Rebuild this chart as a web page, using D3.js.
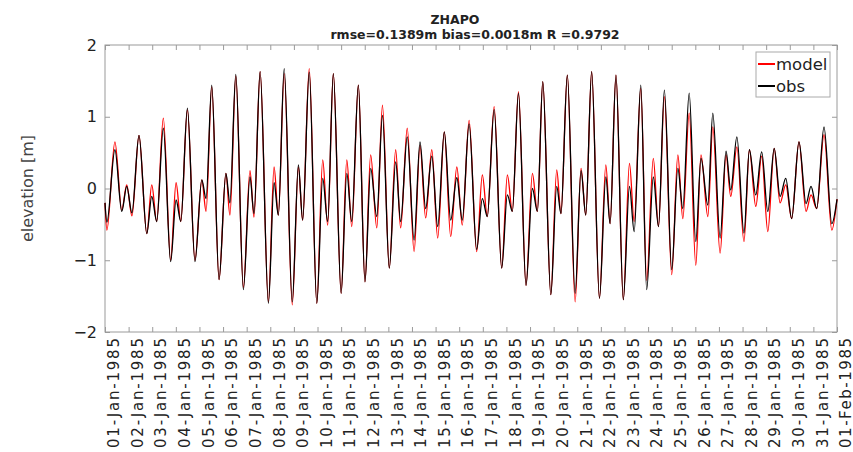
<!DOCTYPE html>
<html>
<head>
<meta charset="utf-8">
<script src="https://cdnjs.cloudflare.com/ajax/libs/d3/7.8.5/d3.min.js"></script>
<style>
    body { margin: 0; background: #fff; }
    svg { font-family: "DejaVu Sans", sans-serif; }
</style>
</head>
<body>
<svg width="853" height="452"></svg>
<script>
// extremos de maré: dias desde 01-Jan-1985 e elevação em metros
let dias = [
    0.00, 0.08, 0.42, 0.71, 0.92, 1.14, 1.44, 1.77, 1.98, 2.19,
    2.47, 2.78, 3.01, 3.21, 3.49, 3.81, 4.10, 4.28, 4.52, 4.83,
    5.12, 5.29, 5.54, 5.86, 6.14, 6.31, 6.57, 6.92, 7.16, 7.34,
    7.59, 7.93, 8.19, 8.37, 8.65, 8.97, 9.22, 9.43, 9.67, 10.00,
    10.24, 10.45, 10.73, 11.01, 11.25, 11.51, 11.75, 12.04, 12.31, 12.52,
    12.80, 13.09, 13.34, 13.58, 13.84, 14.09, 14.37, 14.64, 14.90, 15.13,
    15.42, 15.74, 15.98, 16.19, 16.48, 16.80, 17.04, 17.25, 17.51, 17.83,
    18.10, 18.31, 18.54, 18.88, 19.13, 19.31, 19.58, 19.91, 20.16, 20.36,
    20.61, 20.94, 21.21, 21.39, 21.64, 21.95, 22.21, 22.41, 22.69, 22.94,
    23.22, 23.44, 23.69, 24.00, 24.26, 24.47, 24.74, 25.02, 25.24, 25.53,
    25.74, 26.05, 26.30, 26.50, 26.76, 27.06, 27.29, 27.56, 27.81, 28.07,
    28.34, 28.59, 28.83, 29.08, 29.39, 29.69, 29.90, 30.14, 30.45, 30.78,
    31.00
];

let obs = [
    -0.20, -0.47, 0.54, -0.32, 0.03, -0.34, 0.74, -0.63, -0.11, -0.46,
    0.84, -1.02, -0.16, -0.46, 1.12, -1.02, 0.12, -0.14, 1.44, -1.27,
    0.21, -0.20, 1.59, -1.41, 0.16, -0.35, 1.63, -1.60, 0.08, -0.37,
    1.67, -1.58, 0.33, -0.44, 1.62, -1.60, 0.14, -0.46, 1.60, -1.46,
    0.21, -0.46, 1.44, -1.30, 0.28, -0.39, 1.02, -1.11, 0.37, -0.46,
    0.72, -0.72, 0.65, -0.28, 0.45, -0.53, 0.79, -0.44, 0.15, -0.44,
    0.90, -0.85, -0.14, -0.39, 1.10, -1.11, -0.09, -0.32, 1.33, -1.35,
    0.00, -0.32, 1.49, -1.48, 0.03, -0.35, 1.58, -1.46, 0.25, -0.37,
    1.63, -1.53, 0.16, -0.49, 1.58, -1.55, 0.03, -0.60, 1.44, -1.41,
    0.16, -0.53, 1.37, -1.13, 0.28, -0.28, 1.33, -0.74, 0.42, -0.23,
    1.05, -0.69, 0.52, -0.02, 0.72, -0.62, 0.54, -0.09, 0.51, -0.32,
    0.56, -0.11, 0.14, -0.42, 0.65, -0.21, 0.03, -0.28, 0.86, -0.49,
    -0.15
];

let modelo = [
    -0.20, -0.58, 0.65, -0.30, 0.05, -0.38, 0.74, -0.63, 0.05, -0.46,
    0.98, -1.00, 0.08, -0.46, 1.10, -1.00, 0.12, -0.32, 1.42, -1.27,
    0.21, -0.37, 1.57, -1.38, 0.25, -0.40, 1.63, -1.58, 0.30, -0.37,
    1.60, -1.62, 0.30, -0.44, 1.67, -1.60, 0.40, -0.51, 1.60, -1.46,
    0.40, -0.53, 1.44, -1.30, 0.47, -0.55, 1.16, -1.11, 0.54, -0.55,
    0.84, -0.88, 0.60, -0.41, 0.54, -0.69, 0.79, -0.67, 0.30, -0.51,
    0.95, -0.88, 0.19, -0.39, 1.14, -1.11, 0.19, -0.32, 1.35, -1.35,
    0.21, -0.32, 1.49, -1.48, 0.26, -0.35, 1.58, -1.58, 0.28, -0.37,
    1.63, -1.53, 0.33, -0.49, 1.58, -1.55, 0.35, -0.46, 1.40, -1.28,
    0.42, -0.53, 1.28, -1.20, 0.47, -0.42, 1.05, -1.07, 0.47, -0.39,
    0.86, -0.90, 0.47, -0.11, 0.58, -0.74, 0.54, -0.25, 0.45, -0.60,
    0.56, -0.20, 0.05, -0.42, 0.65, -0.32, -0.09, -0.28, 0.75, -0.58,
    -0.15
];

let y_ticks = [-2, -1, 0, 1, 2];
let titulo = "ZHAPO";
let subtitulo = "rmse=0.1389m bias=0.0018m R =0.9792";
let legenda = ["model", "obs"];

let $svg = d3.select("svg");

let inicio = new Date(1985, 0, 1);
let fim = new Date(1985, 1, 1);

let area = {x0: 105, x1: 837, y0: 45, y1: 332};
let cor_eixo = "#9a9a9a";

let x = d3.scaleTime().domain([inicio, fim]).range([area.x0, area.x1]);
let y = d3.scaleLinear().domain([-2, 2]).range([area.y1, area.y0]);

let para_data = d => new Date(inicio.getTime() + d * 864e5);

let pontos_obs = dias.map((d, i) => ({t: para_data(d), v: obs[i]}));
let pontos_mod = dias.map((d, i) => ({t: para_data(d), v: modelo[i]}));

let linha = d3.line()
    .x(d => x(d.t))
    .y(d => y(d.v))
    .curve(d3.curveMonotoneX);

let dias_ticks = x.ticks(d3.timeDay.every(1));

// eixos (ticks para dentro, sem rótulos nos lados de cima e direita)
let eixo_base = $svg.append("g")
    .attr("transform", `translate(0,${area.y1})`)
    .call(d3.axisBottom(x).tickValues(dias_ticks).tickSize(-5).tickFormat(""));

let eixo_topo = $svg.append("g")
    .attr("transform", `translate(0,${area.y0})`)
    .call(d3.axisTop(x).tickValues(dias_ticks).tickSize(-5).tickFormat(""));

let eixo_esq = $svg.append("g")
    .attr("transform", `translate(${area.x0},0)`)
    .call(d3.axisLeft(y).tickValues(y_ticks).tickSize(-5).tickPadding(8).tickFormat(d3.format("d")));

let eixo_dir = $svg.append("g")
    .attr("transform", `translate(${area.x1},0)`)
    .call(d3.axisRight(y).tickValues(y_ticks).tickSize(-5).tickFormat(""));

[eixo_base, eixo_topo, eixo_esq, eixo_dir].forEach(function(g) {
    g.select(".domain").remove();
    g.selectAll(".tick line").attr("stroke", cor_eixo);
});

eixo_esq.selectAll(".tick text")
    .attr("font-size", 16)
    .attr("fill", "#222")
    .attr("font-family", "DejaVu Sans, sans-serif");

$svg.append("rect")
    .attr("x", area.x0)
    .attr("y", area.y0)
    .attr("width", area.x1 - area.x0)
    .attr("height", area.y1 - area.y0)
    .attr("fill", "none")
    .attr("stroke", cor_eixo);

// rótulos das datas, girados
let formato = d3.timeFormat("%d-%b-%Y");

$svg.append("g").selectAll("text.data")
    .data(dias_ticks)
    .enter()
    .append("text")
    .classed("data", true)
    .attr("transform", d => `translate(${x(d) + 9},${area.y1 + 6}) rotate(-90)`)
    .attr("text-anchor", "end")
    .attr("dy", "0.35em")
    .attr("font-size", 15)
    .attr("fill", "#222")
    .attr("textLength", 110)
    .attr("lengthAdjust", "spacing")
    .text(d => formato(d));

// séries
$svg.append("path")
    .datum(pontos_mod)
    .attr("d", linha)
    .attr("fill", "none")
    .attr("stroke", "#ff0000")
    .attr("stroke-width", 1.3);

$svg.append("path")
    .datum(pontos_obs)
    .attr("d", linha)
    .attr("fill", "none")
    .attr("stroke", "#000")
    .attr("stroke-width", 1.3);

// títulos
$svg.append("text")
    .attr("x", 455)
    .attr("y", 24)
    .attr("text-anchor", "middle")
    .attr("font-size", 12.5)
    .attr("font-weight", "bold")
    .attr("fill", "#222")
    .text(titulo);

$svg.append("text")
    .attr("x", 475)
    .attr("y", 39)
    .attr("text-anchor", "middle")
    .attr("font-size", 12.5)
    .attr("font-weight", "bold")
    .attr("fill", "#222")
    .text(subtitulo);

$svg.append("text")
    .attr("transform", `translate(33,${(area.y0 + area.y1) / 2}) rotate(-90)`)
    .attr("text-anchor", "middle")
    .attr("font-size", 16)
    .attr("fill", "#444")
    .text("elevation [m]");

// legenda
let $leg = $svg.append("g").attr("transform", "translate(756,52)");

$leg.append("rect")
    .attr("width", 74)
    .attr("height", 45)
    .attr("fill", "#fff")
    .attr("stroke", "#aaa");

let cores = ["#ff0000", "#000"];

legenda.forEach(function(nome, i) {
    let yy = 12 + i * 22;
    $leg.append("line")
        .attr("x1", 2).attr("x2", 19)
        .attr("y1", yy).attr("y2", yy)
        .attr("stroke", cores[i])
        .attr("stroke-width", 2);
    $leg.append("text")
        .attr("x", 20)
        .attr("y", yy)
        .attr("dy", "0.35em")
        .attr("font-size", 16.5)
        .attr("fill", "#222")
        .text(nome);
});
</script>
</body>
</html>
